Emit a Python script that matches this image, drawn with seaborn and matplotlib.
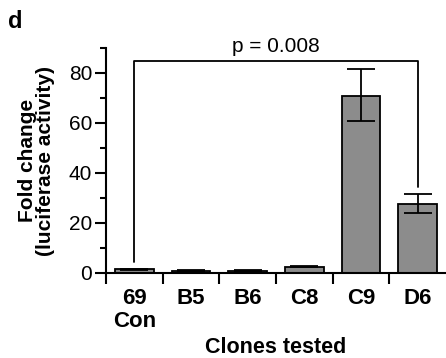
import numpy as np
import pandas as pd
import matplotlib
matplotlib.use("Agg")
import matplotlib.pyplot as plt
import seaborn as sns

# data
clones = ["69\nCon", "B5", "B6", "C8", "C9", "D6"]
fold_change = [1.5, 1.0, 1.0, 2.6, 71.0, 27.5]
err_low = [0.2, 0.1, 0.1, 0.2, 10.0, 3.5]
err_high = [0.2, 0.1, 0.1, 0.2, 10.5, 4.0]

# bracket for the significance annotation
bracket_from = 0
bracket_to = 5
bracket_top = 84.8
bracket_legs = [4.5, 34.5]
p_text = "p = 0.008"

sns.set_style("ticks")
plt.rcParams["font.family"] = ["Liberation Sans", "DejaVu Sans"]
plt.rcParams.update({"text.color": "black", "axes.labelcolor": "black",
                     "xtick.color": "black", "ytick.color": "black",
                     "axes.edgecolor": "black"})

df = pd.DataFrame({"Clone": clones, "Fold": fold_change})

fig = plt.figure(figsize=(4.46, 3.58), dpi=100)
ax = fig.add_axes([106 / 446, 85 / 358, 340 / 446, 225 / 358])

sns.barplot(data=df, x="Clone", y="Fold", color="#8c8c8c", saturation=1,
            width=0.68, edgecolor="black", linewidth=1.3, errorbar=None, ax=ax)
ax.errorbar(np.arange(len(clones)), fold_change, yerr=[err_low, err_high],
            fmt="none", ecolor="black", elinewidth=1.3, capsize=10, capthick=1.3)

# significance bracket
ax.plot([bracket_from, bracket_from, bracket_to, bracket_to],
        [bracket_legs[0], bracket_top, bracket_top, bracket_legs[1]],
        color="black", lw=1.3, clip_on=False)
ax.text((bracket_from + bracket_to) / 2, bracket_top + 2.0, p_text,
        ha="center", va="bottom", fontsize=15)

ax.set_xlim(-0.5, 5.5)
ax.set_ylim(0, 90)
ax.set_yticks([0, 20, 40, 60, 80])
ax.set_yticks([10, 30, 50, 70, 90], minor=True)
ax.set_xticks(np.arange(len(clones)))
ax.set_xticklabels(clones, fontweight="bold", fontsize=16, linespacing=1.1)
ax.set_xticks(np.arange(len(clones)) - 0.5, minor=True)
ax.tick_params(axis="x", which="major", length=0, pad=11)
ax.tick_params(axis="x", which="minor", length=8, width=1.5, direction="out")
ax.tick_params(axis="y", which="major", length=8, width=1.5, labelsize=15, pad=2)
ax.tick_params(axis="y", which="minor", length=4.5, width=1.5)

for side in ["top", "right"]:
    ax.spines[side].set_visible(False)
ax.spines["left"].set_linewidth(1.5)
ax.spines["bottom"].set_linewidth(1.5)

ax.set_xlabel("Clones tested", fontweight="bold", fontsize=15.5, labelpad=4)
ax.set_ylabel("Fold change\n(luciferase activity)", fontweight="bold",
              fontsize=15, linespacing=0.95, labelpad=10)

fig.text(8 / 446, 1 - 28 / 358, "d", fontweight="bold", fontsize=17)

fig.savefig("out.png", dpi=100)
